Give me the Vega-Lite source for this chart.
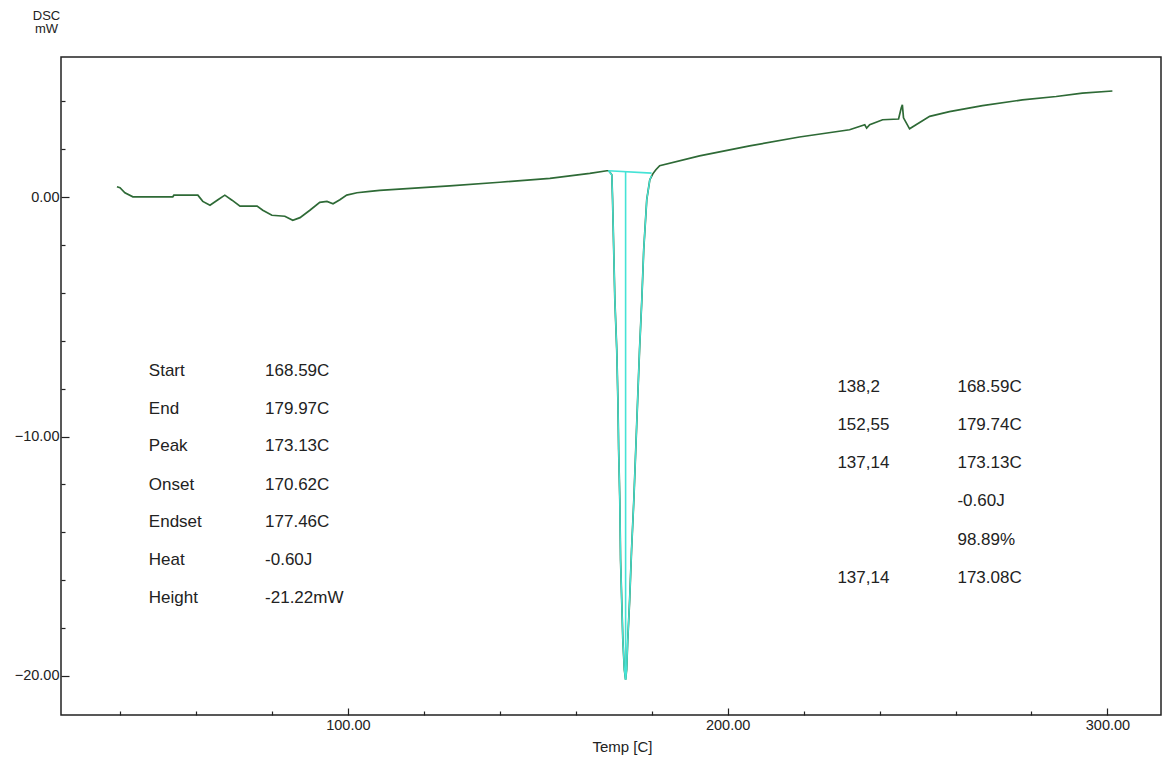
{
  "$schema": "https://vega.github.io/schema/vega-lite/v6.json",
  "width": 1100,
  "height": 658,
  "autosize": {"type": "none"},
  "padding": {"left": 61, "top": 57, "right": 2, "bottom": 43},
  "background": "white",
  "config": {
    "view": {"stroke": "#222222", "strokeWidth": 1.5},
    "font": "Liberation Sans",
    "text": {"font": "Liberation Sans"}
  },
  "datasets": {
    "curve": [
      {"t": 39.2, "v": 0.43}, {"t": 40.0, "v": 0.39}, {"t": 41.3, "v": 0.18}, {"t": 43.4, "v": 0.01},
      {"t": 47.9, "v": 0.01}, {"t": 53.9, "v": 0.01}, {"t": 54.2, "v": 0.08}, {"t": 60.5, "v": 0.08},
      {"t": 61.8, "v": -0.18}, {"t": 63.7, "v": -0.34}, {"t": 65.8, "v": -0.11}, {"t": 67.6, "v": 0.08},
      {"t": 69.5, "v": -0.13}, {"t": 71.6, "v": -0.38}, {"t": 76.1, "v": -0.38}, {"t": 77.6, "v": -0.55},
      {"t": 80.0, "v": -0.76}, {"t": 83.4, "v": -0.8}, {"t": 85.5, "v": -0.97}, {"t": 87.4, "v": -0.86},
      {"t": 90.0, "v": -0.55}, {"t": 92.6, "v": -0.22}, {"t": 94.5, "v": -0.18}, {"t": 96.1, "v": -0.28},
      {"t": 97.9, "v": -0.11}, {"t": 99.7, "v": 0.08}, {"t": 102.4, "v": 0.18}, {"t": 105.8, "v": 0.24},
      {"t": 108.4, "v": 0.28}, {"t": 126.8, "v": 0.47}, {"t": 140.0, "v": 0.62}, {"t": 153.2, "v": 0.78},
      {"t": 163.7, "v": 0.99}, {"t": 168.2, "v": 1.1}, {"t": 168.7, "v": 1.1}, {"t": 169.5, "v": 0.93},
      {"t": 169.7, "v": -0.11}, {"t": 170.0, "v": -2.2}, {"t": 170.3, "v": -4.29}, {"t": 170.8, "v": -6.38},
      {"t": 171.1, "v": -8.47}, {"t": 171.3, "v": -10.55}, {"t": 171.6, "v": -12.64}, {"t": 171.8, "v": -15.14},
      {"t": 172.1, "v": -16.81}, {"t": 172.4, "v": -18.49}, {"t": 172.8, "v": -19.74}, {"t": 173.13, "v": -20.15},
      {"t": 173.4, "v": -19.74}, {"t": 173.7, "v": -18.49}, {"t": 174.2, "v": -16.81}, {"t": 174.7, "v": -14.73},
      {"t": 175.3, "v": -12.64}, {"t": 175.8, "v": -10.55}, {"t": 176.3, "v": -8.47}, {"t": 176.8, "v": -6.38},
      {"t": 177.4, "v": -4.29}, {"t": 177.9, "v": -2.2}, {"t": 178.7, "v": -0.11}, {"t": 179.5, "v": 0.72},
      {"t": 180.3, "v": 0.97}, {"t": 181.1, "v": 1.14}, {"t": 182.1, "v": 1.31}, {"t": 192.6, "v": 1.72},
      {"t": 205.8, "v": 2.14}, {"t": 218.9, "v": 2.51}, {"t": 232.1, "v": 2.81}, {"t": 236.1, "v": 3.02},
      {"t": 236.6, "v": 2.88}, {"t": 237.4, "v": 3.02}, {"t": 240.8, "v": 3.23}, {"t": 245.0, "v": 3.26},
      {"t": 245.7, "v": 3.72}, {"t": 246.0, "v": 3.85}, {"t": 246.3, "v": 3.31}, {"t": 247.9, "v": 2.85},
      {"t": 249.6, "v": 3.02}, {"t": 253.2, "v": 3.37}, {"t": 258.4, "v": 3.57}, {"t": 267.1, "v": 3.82},
      {"t": 277.6, "v": 4.06}, {"t": 286.5, "v": 4.2}, {"t": 293.4, "v": 4.34}, {"t": 301.3, "v": 4.43}
    ],
    "peak": [
      {"t": 168.59, "v": 1.1}, {"t": 169.5, "v": 0.93}, {"t": 169.7, "v": -0.11}, {"t": 170.0, "v": -2.2},
      {"t": 170.3, "v": -4.29}, {"t": 170.8, "v": -6.38}, {"t": 171.1, "v": -8.47}, {"t": 171.3, "v": -10.55},
      {"t": 171.6, "v": -12.64}, {"t": 171.8, "v": -15.14}, {"t": 172.1, "v": -16.81}, {"t": 172.4, "v": -18.49},
      {"t": 172.8, "v": -19.74}, {"t": 173.13, "v": -20.15}, {"t": 173.4, "v": -19.74}, {"t": 173.7, "v": -18.49},
      {"t": 174.2, "v": -16.81}, {"t": 174.7, "v": -14.73}, {"t": 175.3, "v": -12.64}, {"t": 175.8, "v": -10.55},
      {"t": 176.3, "v": -8.47}, {"t": 176.8, "v": -6.38}, {"t": 177.4, "v": -4.29}, {"t": 177.9, "v": -2.2},
      {"t": 178.7, "v": -0.11}, {"t": 179.5, "v": 0.72}, {"t": 179.97, "v": 0.9}
    ],
    "rules": [
      {"t": 168.59, "t2": 179.97, "v": 1.1, "v2": 1.0},
      {"t": 173.13, "t2": 173.13, "v": 1.05, "v2": -20.15}
    ],
    "labels": [
      {"t": 47.6, "v": -7.28, "txt": "Start"},
      {"t": 78.2, "v": -7.28, "txt": "168.59C"},
      {"t": 47.6, "v": -8.84, "txt": "End"},
      {"t": 78.2, "v": -8.84, "txt": "179.97C"},
      {"t": 47.6, "v": -10.41, "txt": "Peak"},
      {"t": 78.2, "v": -10.41, "txt": "173.13C"},
      {"t": 47.6, "v": -12.01, "txt": "Onset"},
      {"t": 78.2, "v": -12.01, "txt": "170.62C"},
      {"t": 47.6, "v": -13.58, "txt": "Endset"},
      {"t": 78.2, "v": -13.58, "txt": "177.46C"},
      {"t": 47.6, "v": -15.14, "txt": "Heat"},
      {"t": 78.2, "v": -15.14, "txt": "-0.60J"},
      {"t": 47.6, "v": -16.73, "txt": "Height"},
      {"t": 78.2, "v": -16.73, "txt": "-21.22mW"},
      {"t": 228.9, "v": -7.92, "txt": "138,2"},
      {"t": 260.5, "v": -7.92, "txt": "168.59C"},
      {"t": 228.9, "v": -9.51, "txt": "152,55"},
      {"t": 260.5, "v": -9.51, "txt": "179.74C"},
      {"t": 228.9, "v": -11.1, "txt": "137,14"},
      {"t": 260.5, "v": -11.1, "txt": "173.13C"},
      {"t": 260.5, "v": -12.68, "txt": "-0.60J"},
      {"t": 260.5, "v": -14.31, "txt": "98.89%"},
      {"t": 228.9, "v": -15.9, "txt": "137,14"},
      {"t": 260.5, "v": -15.9, "txt": "173.08C"}
    ]
  },
  "layer": [
    {
      "data": {"name": "curve"},
      "mark": {"type": "line", "color": "#2e6a36", "strokeWidth": 1.7},
      "encoding": {
        "x": {
          "field": "t", "type": "quantitative",
          "scale": {"domain": [24.47, 314.1], "nice": false, "zero": false},
          "axis": {
            "values": [40, 60, 80, 100, 120, 140, 160, 180, 200, 220, 240, 260, 280, 300],
            "labelExpr": "datum.value % 100 === 0 ? format(datum.value, '.2f') : ''",
            "grid": false,
            "domain": false,
            "tickColor": "#222222",
            "tickWidth": 1.2,
            "tickSize": {"condition": {"test": "datum.value % 100 === 0", "value": -7}, "value": -4},
            "labelFontSize": 14.5,
            "labelColor": "#222222",
            "labelPadding": 10,
            "labelOverlap": false,
            "labelFlush": false,
            "title": "Temp  [C]",
            "titleFontSize": 15,
            "titleFontWeight": "normal",
            "titleColor": "#222222",
            "titleX": 561,
            "titleY": 36,
            "titleBaseline": "alphabetic"
          }
        },
        "y": {
          "field": "v", "type": "quantitative",
          "scale": {"domain": [-21.63, 5.85], "nice": false, "zero": false},
          "axis": {
            "values": [-20, -18, -16, -14, -12, -10, -8, -6, -4, -2, 0, 2, 4],
            "labelExpr": "datum.value % 10 === 0 ? format(datum.value, '.2f') : ''",
            "grid": false,
            "domain": false,
            "tickColor": "#222222",
            "tickWidth": 1.2,
            "tickSize": {"condition": {"test": "datum.value % 10 === 0", "value": -8}, "value": -4},
            "labelFontSize": 14.5,
            "labelColor": "#222222",
            "labelPadding": 10,
            "labelOverlap": false,
            "labelFlush": false,
            "title": ["DSC", "mW"],
            "titleAngle": 0,
            "titleAlign": "center",
            "titleBaseline": "alphabetic",
            "titleFontSize": 13,
            "titleFontWeight": "normal",
            "titleColor": "#222222",
            "titleLineHeight": 13,
            "titleX": -15,
            "titleY": -38
          }
        }
      }
    },
    {
      "data": {"name": "peak"},
      "mark": {"type": "line", "color": "#45e3d6", "strokeWidth": 1.4},
      "encoding": {
        "x": {"field": "t", "type": "quantitative"},
        "y": {"field": "v", "type": "quantitative"}
      }
    },
    {
      "data": {"name": "rules"},
      "mark": {"type": "rule", "color": "#45e3d6", "strokeWidth": 1.6},
      "encoding": {
        "x": {"field": "t", "type": "quantitative"},
        "x2": {"field": "t2"},
        "y": {"field": "v", "type": "quantitative"},
        "y2": {"field": "v2"}
      }
    },
    {
      "data": {"name": "labels"},
      "mark": {"type": "text", "align": "left", "baseline": "middle", "fontSize": 17, "color": "#222222"},
      "encoding": {
        "x": {"field": "t", "type": "quantitative"},
        "y": {"field": "v", "type": "quantitative"},
        "text": {"field": "txt"}
      }
    }
  ]
}
